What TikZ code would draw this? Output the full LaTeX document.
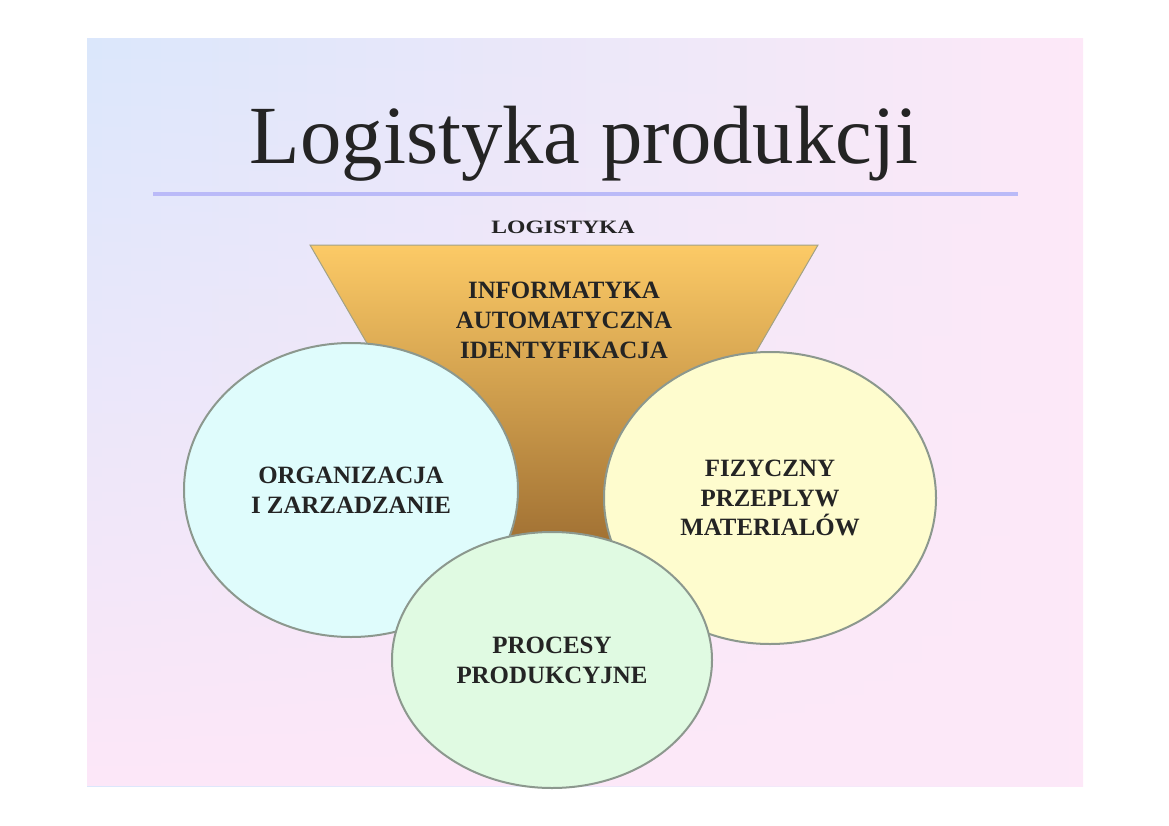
\documentclass[tikz,border=0pt]{standalone}
\usepackage{fontspec}
\setmainfont{Liberation Serif}
\usetikzlibrary{shapes.geometric,fadings}
\definecolor{tloA}{RGB}{219,231,252}
\definecolor{tloB}{RGB}{238,230,250}
\definecolor{tloC}{RGB}{253,232,248}
\definecolor{kreska}{RGB}{186,186,248}
\definecolor{lejekA}{RGB}{252,202,102}
\definecolor{lejekB}{RGB}{162,114,52}
\definecolor{obwod}{RGB}{140,152,142}
\definecolor{napis}{RGB}{36,36,36}
\definecolor{cyjan}{RGB}{223,252,252}
\definecolor{zolty}{RGB}{254,252,206}
\definecolor{zielony}{RGB}{224,250,226}
\tikzset{
	bubble/.style={ellipse, draw=obwod, line width=2bp, inner sep=0pt, align=center,
			font=\bfseries\fontsize{25}{30}\selectfont, text=napis},
	caps/.style={align=center, font=\bfseries\fontsize{25}{30}\selectfont, text=napis}
}

\begin{document}
\begin{tikzpicture}[x=1bp,y=-1bp]
		\useasboundingbox (0,0) rectangle (1169,826);
		% tlo slajdu
		\shade[left color=tloA, middle color=tloB, right color=tloC] (87,38) rectangle (1083,786);
		\fill[tloC, path fading=north] (87,38) rectangle (1083,786);
		\node[anchor=base, text=napis, font=\fontsize{83}{90}\selectfont] (tytul) at (584,163) {Logistyka produkcji};
		\draw[kreska, line width=4bp] (153,194) -- (1018,194);
		\node[anchor=base, text=napis, font=\bfseries\fontsize{19}{22}\selectfont] (logistyka) at (563,233) {\scalebox{1.25}[1]{LOGISTYKA}};
		% lejek
		\shade[top color=lejekA, bottom color=lejekB, draw=obwod!80!lejekA, line width=1bp] (310,245) -- (818,245) -- (647,540) -- (481,540) -- cycle;
		\node[caps] (informatyka) at (564,320) {INFORMATYKA\\AUTOMATYCZNA\\IDENTYFIKACJA};
		% kola
		\node[bubble, fill=cyjan, minimum width=334bp, minimum height=294bp] (organizacja) at (351,490) {ORGANIZACJA\\I ZARZADZANIE};
		\node[bubble, fill=zolty, minimum width=332bp, minimum height=292bp] (przeplyw) at (770,498) {FIZYCZNY\\PRZEPLYW\\MATERIALÓW};
		\node[bubble, fill=zielony, minimum width=320bp, minimum height=256bp] (procesy) at (552,660) {PROCESY\\PRODUKCYJNE};
	\end{tikzpicture}
\end{document}
